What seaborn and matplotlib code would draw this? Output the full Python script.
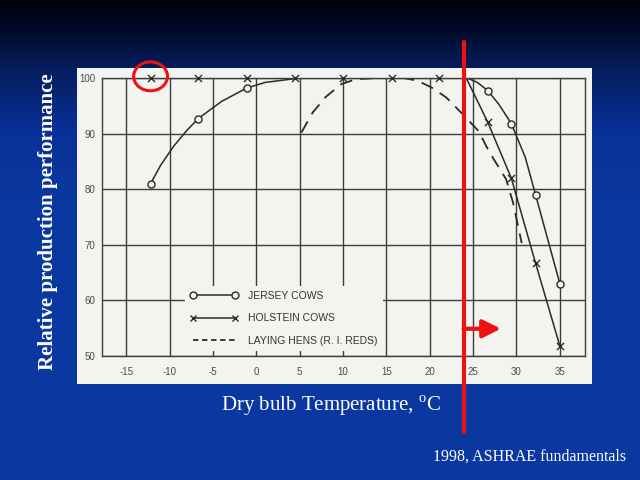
import numpy as np
import matplotlib
matplotlib.use("Agg")
import matplotlib.pyplot as plt
from matplotlib.patches import Rectangle, Ellipse
from matplotlib.lines import Line2D
import seaborn as sns

# --- Data ---
jersey_x = [-12.2, -6.7, -1.1, 26.7, 29.4, 32.2, 35]
jersey_y = [81, 92.7, 98.2, 97.7, 91.8, 79, 63]
jersey_curve_x = [-12.2, -11, -9.5, -8, -6.7, -4, -1.1, 1, 5, 10, 20, 24.3, 25.5, 26.7, 28, 29.4, 31, 32.2, 35]
jersey_curve_y = [81, 84.4, 87.8, 90.6, 92.7, 95.8, 98.2, 99.2, 100, 100, 100, 100, 99.2, 97.7, 95.2, 91.8, 85.8, 79, 63]

holstein_x = [-12.2, -6.7, -1.1, 4.4, 10, 15.6, 21.1, 26.7, 29.4, 32.2, 35]
holstein_y = [100, 100, 100, 100, 100, 100, 100, 92, 82, 66.7, 51.8]
holstein_curve_x = [-12.2, 21.1, 24.2, 25.3, 26.7, 29.4, 32.2, 35]
holstein_curve_y = [100, 100, 100, 96.5, 92, 82, 66.7, 51.8]

hens_x = [5.2, 6.5, 8, 9.8, 11.5, 14, 17, 18.6, 20.2, 21.9, 23.6, 25.6, 26.9, 28.8, 29.6, 30.6]
hens_y = [90.2, 93.8, 96.6, 98.9, 99.8, 100, 100, 99.5, 98.3, 96.5, 93.8, 90.5, 86.6, 81.8, 77.6, 70.3]

labels = ["JERSEY COWS", "HOLSTEIN COWS", "LAYING HENS (R. I. REDS)"]
x_ticks = [-15, -10, -5, 0, 5, 10, 15, 20, 25, 30, 35]
y_ticks = [50, 60, 70, 80, 90, 100]
threshold_temp = 23.9     # red marker line
arrow_y = 54.9
arrow_tip = 28.2

# --- Setup ---
sns.set_theme(style="white")
plt.rcParams['font.family'] = ['Liberation Sans', 'DejaVu Sans']
plt.rcParams['axes.unicode_minus'] = False
plt.rcParams['mathtext.fontset'] = 'custom'
plt.rcParams['mathtext.rm'] = 'Liberation Serif'

paper = "#f3f3f0"
ink = "#2a2a2a"
grid_c = "#3c3c3c"
red = "#ee1111"

fig = plt.figure(figsize=(6.4, 4.8), dpi=100)

# --- slide background ---
bg = fig.add_axes([0, 0, 1, 1], zorder=-5)
rows = np.arange(480)
stops_y = [0, 25, 70, 130, 200, 480]
stops_c = np.array([[0, 2, 12], [2, 8, 36], [6, 30, 96], [9, 48, 150], [11, 56, 160], [10, 56, 160]]) / 255
grad = np.stack([np.interp(rows, stops_y, stops_c[:, i]) for i in range(3)], axis=1)
img = np.repeat(grad[:, None, :], 640, axis=1)
bg.imshow(img, extent=[0, 1, 0, 1], aspect='auto', origin='upper')
bg.add_patch(Rectangle((77 / 640, 1 - 384 / 480), (592 - 77) / 640, (384 - 68) / 480,
                       facecolor=paper, edgecolor='none'))
bg.set_xlim(0, 1)
bg.set_ylim(0, 1)
bg.axis('off')

# --- main chart ---
ax = fig.add_axes([102 / 640, 1 - 356 / 480, (585 - 102) / 640, (356 - 78) / 480], zorder=2)
ax.set_facecolor(paper)

sns.lineplot(x=jersey_curve_x, y=jersey_curve_y, ax=ax, color=ink, lw=1.1, estimator=None, sort=False)
sns.lineplot(x=holstein_curve_x, y=holstein_curve_y, ax=ax, color=ink, lw=1.1, estimator=None, sort=False)
sns.lineplot(x=hens_x, y=hens_y, ax=ax, color=ink, lw=1.3, estimator=None, sort=False)
ax.lines[-1].set_dashes((7, 4.5))
ax.scatter(jersey_x, jersey_y, marker='o', s=26, facecolor=paper, edgecolor=ink, linewidth=1.0, zorder=5)
ax.scatter(holstein_x, holstein_y, marker='x', s=26, color=ink, linewidth=1.0, zorder=5, clip_on=False)

ax.set_xlim(-17.8, 37.9)
ax.set_ylim(50, 100)
ax.set_xticks(x_ticks)
ax.set_yticks(y_ticks)
ax.grid(True, color=grid_c, lw=1.0)
ax.tick_params(length=0, labelsize=7, colors="#4a4a4a")
ax.tick_params(axis='x', pad=8)
ax.tick_params(axis='y', pad=5)
for s in ax.spines.values():
    s.set_color(grid_c)
    s.set_linewidth(1.0)
ax.set_xlabel("")
ax.set_ylabel("")

# legend with markers at both ends
handles = [
    Line2D([], [], color=ink, lw=1.1, marker='o', ms=5, mfc=paper, mec=ink),
    Line2D([], [], color=ink, lw=1.1, marker='x', ms=5, mec=ink),
    Line2D([], [], color=ink, lw=1.3, ls=(0, (3, 2))),
]
leg = ax.legend(handles, labels, loc='lower left', bbox_to_anchor=(0.162, 0.0), numpoints=2,
                frameon=True, facecolor=paper, edgecolor='none', framealpha=1, fancybox=False,
                fontsize=7.5, handlelength=4.6, handletextpad=1.0, labelspacing=1.22,
                borderpad=0.45)
for t in leg.get_texts():
    t.set_color("#333333")

# --- red annotations ---
ax.axvline(threshold_temp, ymin=-0.273, ymax=1.129, color=red, lw=3, clip_on=False, zorder=10)
ax.annotate("", xy=(arrow_tip, arrow_y), xytext=(threshold_temp, arrow_y),
            arrowprops=dict(arrowstyle='-|>,head_length=0.9,head_width=0.45', color=red, lw=3,
                            shrinkA=0, shrinkB=0), zorder=10)
ax.add_patch(Ellipse((holstein_x[0], 100.3), 3.9, 5.2, facecolor='none', edgecolor=red,
                     lw=2.2, clip_on=False, zorder=10))

# --- slide text ---
fig.text(48 / 640, 1 - 222 / 480, "Relative production performance", rotation=90,
         ha='center', va='center', color='white', fontsize=15, fontweight='bold',
         family='Liberation Serif')
fig.text(331 / 640, 1 - 406 / 480, r"Dry bulb Temperature, $^{\mathrm{o}}$C", ha='center',
         va='center', color='white', fontsize=15, family='Liberation Serif')
fig.text(626 / 640, 1 - 457 / 480, "1998, ASHRAE fundamentals", ha='right', va='center',
         color='white', fontsize=11.5, family='Liberation Serif')

fig.savefig("out.png", dpi=100, facecolor=fig.get_facecolor())
